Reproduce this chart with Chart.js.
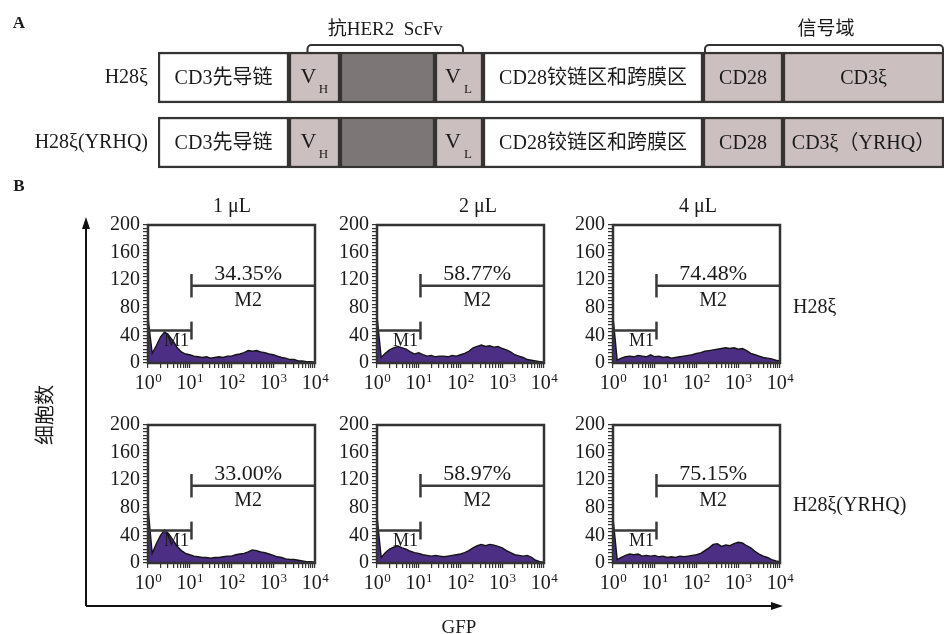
<!DOCTYPE html>
<html>
<head>
<meta charset="utf-8">
<script src="https://cdn.jsdelivr.net/npm/chart.js@4.4.1/dist/chart.umd.min.js"></script>
<style>
  body { margin: 0; background: #fff; }
  #fig { position: relative; width: 945px; height: 634px; overflow: hidden;
         font-family: "Liberation Serif", "Noto Sans CJK SC", serif; color: #1a1a1a; }
  #fig canvas, .t, svg { position: absolute; }
  .t { font-size: 20px; white-space: nowrap; line-height: 1; transform: translate(-50%, -50%); }
</style>
</head>
<body>
<div id="fig">
  <canvas id="schema" width="945" height="200" style="left:0;top:0"></canvas>
  <div class="t" style="left:19px;top:22px;font-weight:bold;font-size:17px">A</div>
  <div class="t" style="left:19px;top:185px;font-weight:bold;font-size:17px">B</div>

  <svg width="945" height="634" style="left:0;top:0">
    <line x1="86" y1="606" x2="86" y2="226" stroke="#111" stroke-width="2"/>
    <polygon points="86,217 82,229 90,229" fill="#111"/>
    <line x1="86" y1="606" x2="774" y2="606" stroke="#111" stroke-width="2"/>
    <polygon points="783,606 771,602 771,610" fill="#111"/>
  </svg>

  <div class="t" style="left:45px;top:415px;transform:translate(-50%,-50%) rotate(-90deg)">细胞数</div>
  <div class="t" style="left:459px;top:626px;font-size:19px">GFP</div>
  <div class="t" id="dose0" style="left:232px;top:205px"></div>
  <div class="t" id="dose1" style="left:478px;top:205px"></div>
  <div class="t" id="dose2" style="left:698px;top:205px"></div>
  <div class="t" id="row0" style="left:793px;top:306px;transform:translate(0,-50%)"></div>
  <div class="t" id="row1" style="left:793px;top:504px;transform:translate(0,-50%)"></div>
</div>

<script>
// ---------- 数据 ----------
const constructs = ['H28ξ', 'H28ξ(YRHQ)'];
const segmentNames = ['CD3先导链', 'VH', '连接肽', 'VL', 'CD28铰链区和跨膜区', 'CD28', 'CD3ξ'];
const segmentLengths = [131, 51, 95, 48, 220, 80, 161];
const segmentLabels = [
    ['CD3先导链', 'V', '', 'V', 'CD28铰链区和跨膜区', 'CD28', 'CD3ξ'],
    ['CD3先导链', 'V', '', 'V', 'CD28铰链区和跨膜区', 'CD28', 'CD3ξ（YRHQ）']
];
const segmentSubs = ['', 'H', '', 'L', '', '', ''];

const doses = ['1 μL', '2 μL', '4 μL'];
const m2Percent = [[34.35, 58.77, 74.48], [33.00, 58.97, 75.15]];

const gfpBins = [1, 1.26, 1.58, 2, 2.51, 3.16, 3.98, 5.01, 6.31, 7.94,
    10, 12.6, 15.8, 20, 25.1, 31.6, 39.8, 50.1, 63.1, 79.4,
    100, 126, 158, 200, 251, 316, 398, 501, 631, 794,
    1000, 1259, 1585, 1995, 2512, 3162, 3981, 5012, 6310, 7943, 10000];

const h28_1uL = [66, 14, 25, 38, 45, 40, 32, 22, 16, 13, 12, 10, 9, 8, 9, 7, 8, 9, 8, 10,
    10, 12, 13, 15, 18, 17, 18, 16, 15, 13, 12, 10, 8, 7, 5, 5, 3, 3, 2, 2, 1];
const h28_2uL = [68, 8, 14, 19, 22, 24, 22, 20, 16, 13, 15, 12, 10, 11, 9, 10, 10, 9, 11, 10,
    12, 14, 17, 22, 24, 26, 24, 25, 23, 24, 21, 19, 16, 12, 10, 8, 5, 4, 3, 2, 1];
const h28_4uL = [67, 4, 7, 9, 10, 9, 11, 10, 9, 12, 9, 10, 8, 9, 7, 8, 9, 10, 11, 12,
    14, 15, 17, 18, 19, 20, 21, 22, 21, 22, 20, 21, 18, 14, 12, 10, 8, 7, 6, 4, 3];
const yrhq_1uL = [80, 14, 28, 40, 48, 42, 33, 24, 18, 14, 12, 10, 9, 8, 8, 7, 8, 8, 9, 10,
    10, 12, 13, 14, 16, 19, 18, 16, 15, 13, 11, 9, 8, 6, 5, 5, 4, 3, 2, 2, 1];
const yrhq_2uL = [68, 8, 15, 20, 23, 25, 22, 20, 17, 15, 14, 12, 11, 10, 11, 10, 9, 10, 11, 12,
    13, 15, 18, 22, 25, 27, 25, 27, 26, 24, 22, 18, 15, 12, 11, 10, 11, 8, 4, 2, 1];
const yrhq_4uL = [65, 5, 8, 11, 13, 12, 13, 10, 11, 10, 11, 9, 10, 8, 9, 8, 10, 9, 10, 11,
    12, 14, 18, 22, 27, 28, 24, 26, 25, 28, 30, 29, 25, 22, 17, 13, 10, 8, 5, 3, 2];
const histCounts = [[h28_1uL, h28_2uL, h28_4uL], [yrhq_1uL, yrhq_2uL, yrhq_4uL]];

// 门控 M1 / M2
const gateM1 = [1, 11];
const gateM2 = [11, 10000];
const m1Level = 47;
const m2Level = 112;

const decadeValues = [1, 10, 100, 1000, 10000];
const decadeExponents = ['0', '1', '2', '3', '4'];
const countLabels = [0, 40, 80, 120, 160, 200];

// ---------- 通用设置 ----------
const serif = '"Liberation Serif", "Noto Sans CJK SC", serif';
Chart.defaults.font.family = serif;
Chart.defaults.color = '#1a1a1a';
Chart.defaults.animation = false;

doses.forEach((d, i) => document.getElementById('dose' + i).textContent = d);
constructs.forEach((c, i) => document.getElementById('row' + i).textContent = c);

// ---------- A: 结构示意 ----------
const segmentFills = ['#ffffff', '#cbbfbf', '#7c7676', '#cbbfbf', '#ffffff', '#cbbfbf', '#cbbfbf'];
const totalLength = segmentLengths.reduce((s, v) => s + v, 0);

const drawBrace = (ctx, x1, x2, yTop, yBottom) => {
    const r = 4;
    ctx.beginPath();
    ctx.moveTo(x1, yBottom);
    ctx.lineTo(x1, yTop + r);
    ctx.arcTo(x1, yTop, x1 + r, yTop, r);
    ctx.lineTo(x2 - r, yTop);
    ctx.arcTo(x2, yTop, x2, yTop + r, r);
    ctx.lineTo(x2, yBottom);
    ctx.stroke();
};

const schemaLabels = {
    id: 'schemaLabels',
    afterDatasetsDraw(chart) {
        const ctx = chart.ctx;
        ctx.save();
        ctx.fillStyle = '#1a1a1a';
        ctx.textAlign = 'center';
        ctx.textBaseline = 'middle';
        chart.data.datasets.forEach((ds, i) => {
            chart.getDatasetMeta(i).data.forEach((bar, r) => {
                const { x, base, y } = bar.getProps(['x', 'base', 'y'], true);
                const cx = (x + base) / 2;
                const txt = segmentLabels[r][i];
                if (!txt) return;
                if (segmentSubs[i]) {
                    ctx.font = `22px ${serif}`;
                    ctx.fillText(txt, cx - 6, y);
                    ctx.font = `13px ${serif}`;
                    ctx.fillText(segmentSubs[i], cx + 9, y + 12);
                } else {
                    ctx.font = `20px ${serif}`;
                    ctx.fillText(txt, cx, y + 1);
                }
            });
        });

        // 抗HER2 ScFv 与 信号域 括号
        const row0 = i => chart.getDatasetMeta(i).data[0].getProps(['x', 'base', 'y'], true);
        const vh = row0(1), vl = row0(3), cd28 = row0(5), cd3 = row0(6);
        const boxTop = vh.y - 25.5;
        ctx.strokeStyle = '#333';
        ctx.lineWidth = 2;
        const b1 = [(vh.x + vh.base) / 2 - 7, (vl.x + vl.base) / 2 + 4];
        const b2 = [cd28.base + 2, cd3.x - 1];
        drawBrace(ctx, b1[0], b1[1], boxTop - 7, boxTop);
        drawBrace(ctx, b2[0], b2[1], boxTop - 7, boxTop);
        ctx.font = `19px ${serif}`;
        ctx.fillText('抗HER2  ScFv', (b1[0] + b1[1]) / 2, 30);
        ctx.fillText('信号域', (b2[0] + b2[1]) / 2 + 2, 30);
        ctx.restore();
    }
};

new Chart(document.getElementById('schema'), {
    type: 'bar',
    data: {
        labels: constructs,
        datasets: segmentLengths.map((len, i) => ({
            label: segmentNames[i],
            data: constructs.map(() => len),
            backgroundColor: segmentFills[i],
            borderColor: '#363333',
            borderWidth: 2.5,
            borderSkipped: false,
            barThickness: 51
        }))
    },
    options: {
        indexAxis: 'y',
        responsive: false,
        layout: { padding: { top: 45, right: 1, left: 0, bottom: 25 } },
        plugins: { legend: { display: false }, tooltip: { enabled: false } },
        scales: {
            x: { stacked: true, display: false, min: 0, max: totalLength },
            y: {
                stacked: true,
                grid: { display: false, drawTicks: false },
                border: { display: false },
                ticks: { font: { size: 20 }, padding: 10, color: '#1a1a1a' },
                afterFit: s => { s.width = 158; }
            }
        }
    },
    plugins: [schemaLabels]
});

// ---------- B: 流式直方图 ----------
const plotLeft = [148, 377, 613];
const plotTop = [225, 425];
const plotW = 167, plotH = 138;
const padTop = 18, padRight = 20, yAxisW = 62, xAxisH = 34;

const logTicks = [];
decadeValues.slice(0, 4).forEach(d => { for (let k = 1; k < 10; k++) logTicks.push(d * k); });
logTicks.push(10000);
const countTicks = [];
for (let v = 0; v <= 200; v += 5) countTicks.push(v);

const frame = {
    id: 'frame',
    afterDatasetsDraw(chart) {
        const { ctx, chartArea: a } = chart;
        ctx.save();
        ctx.strokeStyle = '#333';
        ctx.lineWidth = 2.5;
        ctx.strokeRect(a.left, a.top, a.right - a.left, a.bottom - a.top);
        ctx.restore();
    }
};

const panelText = pct => ({
    id: 'panelText',
    afterDraw(chart) {
        const { ctx, chartArea: a, scales: { x, y } } = chart;
        ctx.save();
        ctx.fillStyle = '#1a1a1a';
        ctx.textAlign = 'center';
        ctx.textBaseline = 'middle';
        ctx.font = `22px ${serif}`;
        ctx.fillText(pct.toFixed(2) + '%', x.getPixelForValue(250), y.getPixelForValue(128));
        ctx.font = `20px ${serif}`;
        ctx.fillText('M2', x.getPixelForValue(250), y.getPixelForValue(90));
        ctx.font = `18px ${serif}`;
        ctx.fillText('M1', x.getPixelForValue(4.8), y.getPixelForValue(31));

        // 10 的幂刻度标签
        ctx.textAlign = 'left';
        ctx.textBaseline = 'alphabetic';
        const base = a.bottom + 26;
        decadeValues.forEach((v, k) => {
            ctx.font = `20px ${serif}`;
            const w1 = ctx.measureText('10').width;
            ctx.font = `13px ${serif}`;
            const w2 = ctx.measureText(decadeExponents[k]).width;
            const left = x.getPixelForValue(v) - (w1 + w2) / 2;
            ctx.font = `20px ${serif}`;
            ctx.fillText('10', left, base);
            ctx.font = `13px ${serif}`;
            ctx.fillText(decadeExponents[k], left + w1 + 0.5, base - 7);
        });
        ctx.restore();
    }
});

const gateLine = pts => ({
    data: pts,
    borderColor: '#3a3a3a',
    borderWidth: 2.5,
    pointRadius: 0,
    fill: false,
    order: 0
});

const fig = document.getElementById('fig');
histCounts.forEach((row, r) => {
    row.forEach((counts, c) => {
        const cv = document.createElement('canvas');
        cv.width = yAxisW + plotW + padRight;
        cv.height = padTop + plotH + xAxisH;
        cv.style.left = (plotLeft[c] - yAxisW) + 'px';
        cv.style.top = (plotTop[r] - padTop) + 'px';
        fig.appendChild(cv);

        new Chart(cv, {
            type: 'line',
            data: {
                datasets: [
                    {
                        data: gfpBins.map((x, i) => ({ x, y: counts[i] })),
                        fill: 'origin',
                        backgroundColor: '#4c2e85',
                        borderColor: '#151515',
                        borderWidth: 1.4,
                        pointRadius: 0,
                        tension: 0,
                        order: 1
                    },
                    gateLine([{ x: gateM1[0], y: m1Level }, { x: gateM1[1], y: m1Level }]),
                    gateLine([{ x: gateM1[1], y: m1Level - 13 }, { x: gateM1[1], y: m1Level + 13 }]),
                    gateLine([{ x: gateM2[0], y: m2Level }, { x: gateM2[1], y: m2Level }]),
                    gateLine([{ x: gateM2[0], y: m2Level - 17 }, { x: gateM2[0], y: m2Level + 17 }])
                ]
            },
            options: {
                responsive: false,
                layout: { padding: { top: padTop, right: padRight, left: 0, bottom: 0 } },
                plugins: { legend: { display: false }, tooltip: { enabled: false } },
                scales: {
                    x: {
                        type: 'logarithmic', min: 1, max: 10000,
                        afterBuildTicks: s => { s.ticks = logTicks.map(value => ({ value })); },
                        ticks: { autoSkip: false, maxRotation: 0, padding: 3, callback: () => '' },
                        grid: { drawOnChartArea: false, tickLength: 5, color: '#333', lineWidth: 1.2 },
                        border: { display: false },
                        afterFit: s => { s.height = xAxisH; }
                    },
                    y: {
                        min: 0, max: 200,
                        afterBuildTicks: s => { s.ticks = countTicks.map(value => ({ value })); },
                        ticks: {
                            autoSkip: false, padding: 3, font: { size: 20 }, color: '#1a1a1a',
                            callback: v => countLabels.includes(v) ? String(v) : ''
                        },
                        grid: { drawOnChartArea: false, tickLength: 5, color: '#333', lineWidth: 1.2 },
                        border: { display: false },
                        afterFit: s => { s.width = yAxisW; }
                    }
                }
            },
            plugins: [frame, panelText(m2Percent[r][c])]
        });
    });
});
</script>
</body>
</html>
